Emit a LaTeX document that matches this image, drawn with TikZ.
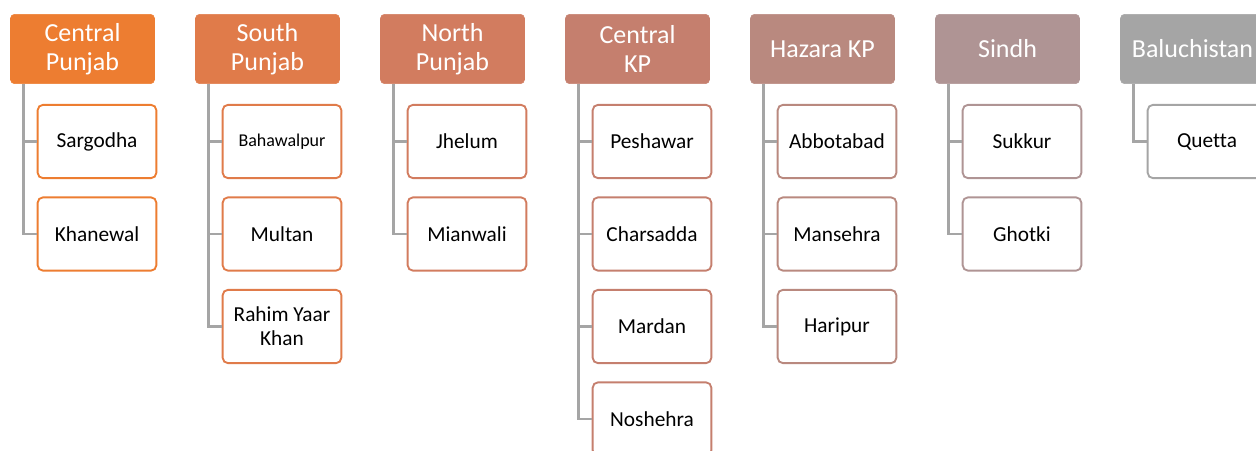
\documentclass[tikz,border=0pt]{standalone}
\usepackage{fontspec}
\setmainfont{Carlito}[Ligatures=NoCommon]
\definecolor{regA}{HTML}{ED7D31}
\definecolor{regB}{HTML}{E07B4A}
\definecolor{regC}{HTML}{D27C5F}
\definecolor{regD}{HTML}{C57F6E}
\definecolor{regE}{HTML}{B9897F}
\definecolor{regF}{HTML}{AF9494}
\definecolor{regG}{HTML}{A5A5A5}
\definecolor{linkgray}{HTML}{A5A5A5}
\begin{document}
\begin{tikzpicture}[x=0.75pt,y=-0.75pt,
  region/.style={rectangle, rounded corners=3pt, fill=#1, draw=#1, text=white,
    minimum width=108pt, minimum height=52pt, align=center,
    font=\fontsize{19.5}{21.5}\selectfont},
  city/.style={rectangle, rounded corners=4pt, fill=white, draw=#1, line width=1.4pt,
    minimum width=89pt, minimum height=55pt, align=center,
    font=\fontsize{16}{18}\selectfont},
  link/.style={draw=linkgray, line width=2pt}]
\useasboundingbox (0,0) rectangle (1256,450);
\clip (0,0) rectangle (1256,450);

% regions
\node[region=regA] (cpunjab) at (82.5,49) {Central\\Punjab};
\node[region=regB] (spunjab) at (267.5,49) {South\\Punjab};
\node[region=regC] (npunjab) at (452.5,49) {North\\Punjab};
\node[region=regD] (ckp) at (637.5,49) {Central\\KP};
\node[region=regE] (hazara) at (822.5,49) {Hazara KP};
\node[region=regF] (sindh) at (1007.5,49) {Sindh};
\node[region=regG] (baluch) at (1192.5,49) {Baluchistan};

% cities
\node[city=regA] (sargodha) at (97,141.5) {Sargodha};
\node[city=regA] (khanewal) at (97,234) {Khanewal};
\node[city=regB, font=\fontsize{13.5}{16}\selectfont] (bahawalpur) at (282,141.5) {Bahawalpur};
\node[city=regB] (multan) at (282,234) {Multan};
\node[city=regB] (rahim) at (282,326.5) {Rahim Yaar\\Khan};
\node[city=regC] (jhelum) at (467,141.5) {Jhelum};
\node[city=regC] (mianwali) at (467,234) {Mianwali};
\node[city=regD] (peshawar) at (652,141.5) {Peshawar};
\node[city=regD] (charsadda) at (652,234) {Charsadda};
\node[city=regD] (mardan) at (652,326.5) {Mardan};
\node[city=regD] (noshehra) at (652,419) {Noshehra};
\node[city=regE] (abbotabad) at (837,141.5) {Abbotabad};
\node[city=regE] (mansehra) at (837,234) {Mansehra};
\node[city=regE] (haripur) at (837,326.5) {Haripur};
\node[city=regF] (sukkur) at (1022,141.5) {Sukkur};
\node[city=regF] (ghotki) at (1022,234) {Ghotki};
\node[city=regG] (quetta) at (1207,141.5) {Quetta};

% links
\draw[link] ([xshift=9.75pt]cpunjab.south west) |- (sargodha.west);
\draw[link] ([xshift=9.75pt]cpunjab.south west) |- (khanewal.west);
\draw[link] ([xshift=9.75pt]spunjab.south west) |- (bahawalpur.west);
\draw[link] ([xshift=9.75pt]spunjab.south west) |- (multan.west);
\draw[link] ([xshift=9.75pt]spunjab.south west) |- (rahim.west);
\draw[link] ([xshift=9.75pt]npunjab.south west) |- (jhelum.west);
\draw[link] ([xshift=9.75pt]npunjab.south west) |- (mianwali.west);
\draw[link] ([xshift=9.75pt]ckp.south west) |- (peshawar.west);
\draw[link] ([xshift=9.75pt]ckp.south west) |- (charsadda.west);
\draw[link] ([xshift=9.75pt]ckp.south west) |- (mardan.west);
\draw[link] ([xshift=9.75pt]ckp.south west) |- (noshehra.west);
\draw[link] ([xshift=9.75pt]hazara.south west) |- (abbotabad.west);
\draw[link] ([xshift=9.75pt]hazara.south west) |- (mansehra.west);
\draw[link] ([xshift=9.75pt]hazara.south west) |- (haripur.west);
\draw[link] ([xshift=9.75pt]sindh.south west) |- (sukkur.west);
\draw[link] ([xshift=9.75pt]sindh.south west) |- (ghotki.west);
\draw[link] ([xshift=9.75pt]baluch.south west) |- (quetta.west);
\end{tikzpicture}
\end{document}
